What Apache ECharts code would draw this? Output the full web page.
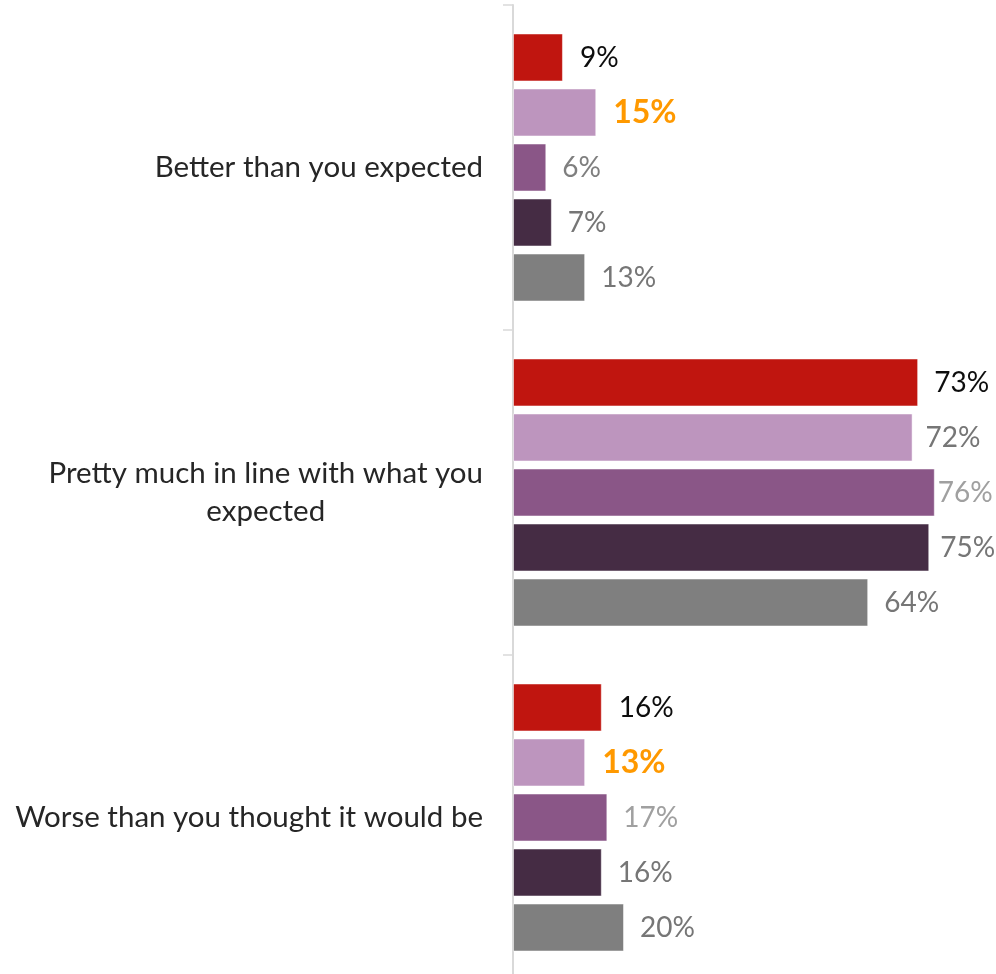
<!DOCTYPE html>
<html>
<head>
<meta charset="utf-8">
<script src="https://cdn.jsdelivr.net/npm/echarts@6/dist/echarts.min.js"></script>
<style>
html,body{margin:0;padding:0;background:#fff;}
#chart{width:996px;height:974px;}
</style>
</head>
<body>
<div id="chart"></div>
<script>
// Categories (top to bottom)
const categories = [
  'Better than you expected',
  'Pretty much in line with what you\nexpected',
  'Worse than you thought it would be'
];
// Five series, top bar to bottom bar within each group
const seriesA = [9, 73, 16];
const seriesB = [15, 72, 13];
const seriesC = [6, 76, 17];
const seriesD = [7, 75, 16];
const seriesE = [13, 64, 20];
const seriesValues = [seriesA, seriesB, seriesC, seriesD, seriesE];

// Styles
const barColors = ['#C0150F', '#BD95BE', '#8A5687', '#452C44', '#7F7F7F'];
const labelColors = [
  ['#0D0D0D', '#0D0D0D', '#0D0D0D'],
  ['#FF9900', '#767676', '#FF9900'],
  ['#7F7F7F', '#A0A0A0', '#A0A0A0'],
  ['#767676', '#767676', '#767676'],
  ['#767676', '#767676', '#767676']
];
const labelBold = [
  [false, false, false],
  [true, false, true],
  [false, false, false],
  [false, false, false],
  [false, false, false]
];
const labelDistance = [
  [17, 16, 17],
  [17, 13, 17],
  [16, 3, 16],
  [16, 11, 16],
  [16, 16, 16]
];

const FONT = 'Lato';
const chart = echarts.init(document.getElementById('chart'), null, {renderer: 'canvas'});

const series = seriesValues.map((vals, si) => ({
  type: 'bar',
  barWidth: 48,
  barGap: '14.6%',
  itemStyle: {color: barColors[si], borderColor: 'rgba(255,255,255,0.5)', borderWidth: 1},
  data: vals.map((v, ci) => ({
    value: v,
    label: {
      color: labelColors[si][ci],
      fontWeight: labelBold[si][ci] ? 'bold' : 'normal',
      fontSize: labelBold[si][ci] ? 32 : 28,
      distance: labelDistance[si][ci]
    }
  })),
  label: {
    show: true,
    position: 'right',
    fontFamily: FONT,
    fontSize: 28,
    formatter: p => p.value + '%'
  },
  animation: false
}));

chart.setOption({
  animation: false,
  grid: {left: 513, top: 5, width: 444, height: 975, containLabel: false, outerBoundsMode: 'none'},
  xAxis: {
    type: 'value', min: 0, max: 80,
    show: false
  },
  yAxis: {
    type: 'category',
    inverse: true,
    data: categories,
    axisLine: {show: true, lineStyle: {color: '#D9D9D9', width: 2}},
    axisTick: {show: true, length: 10, lineStyle: {color: '#D9D9D9', width: 1.5}},
    axisLabel: {
      margin: 30,
      color: '#262626',
      fontFamily: FONT,
      fontSize: 29.5,
      lineHeight: 38,
      formatter: function (val) {
        if (val.indexOf('\n') >= 0) {
          return val.split('\n').map(s => '{c|' + s + '}').join('\n');
        }
        return val;
      },
      rich: {
        c: {align: 'center', color: '#262626', fontFamily: FONT, fontSize: 29.5, lineHeight: 38}
      }
    }
  },
  series: series
});
</script>
</body>
</html>
